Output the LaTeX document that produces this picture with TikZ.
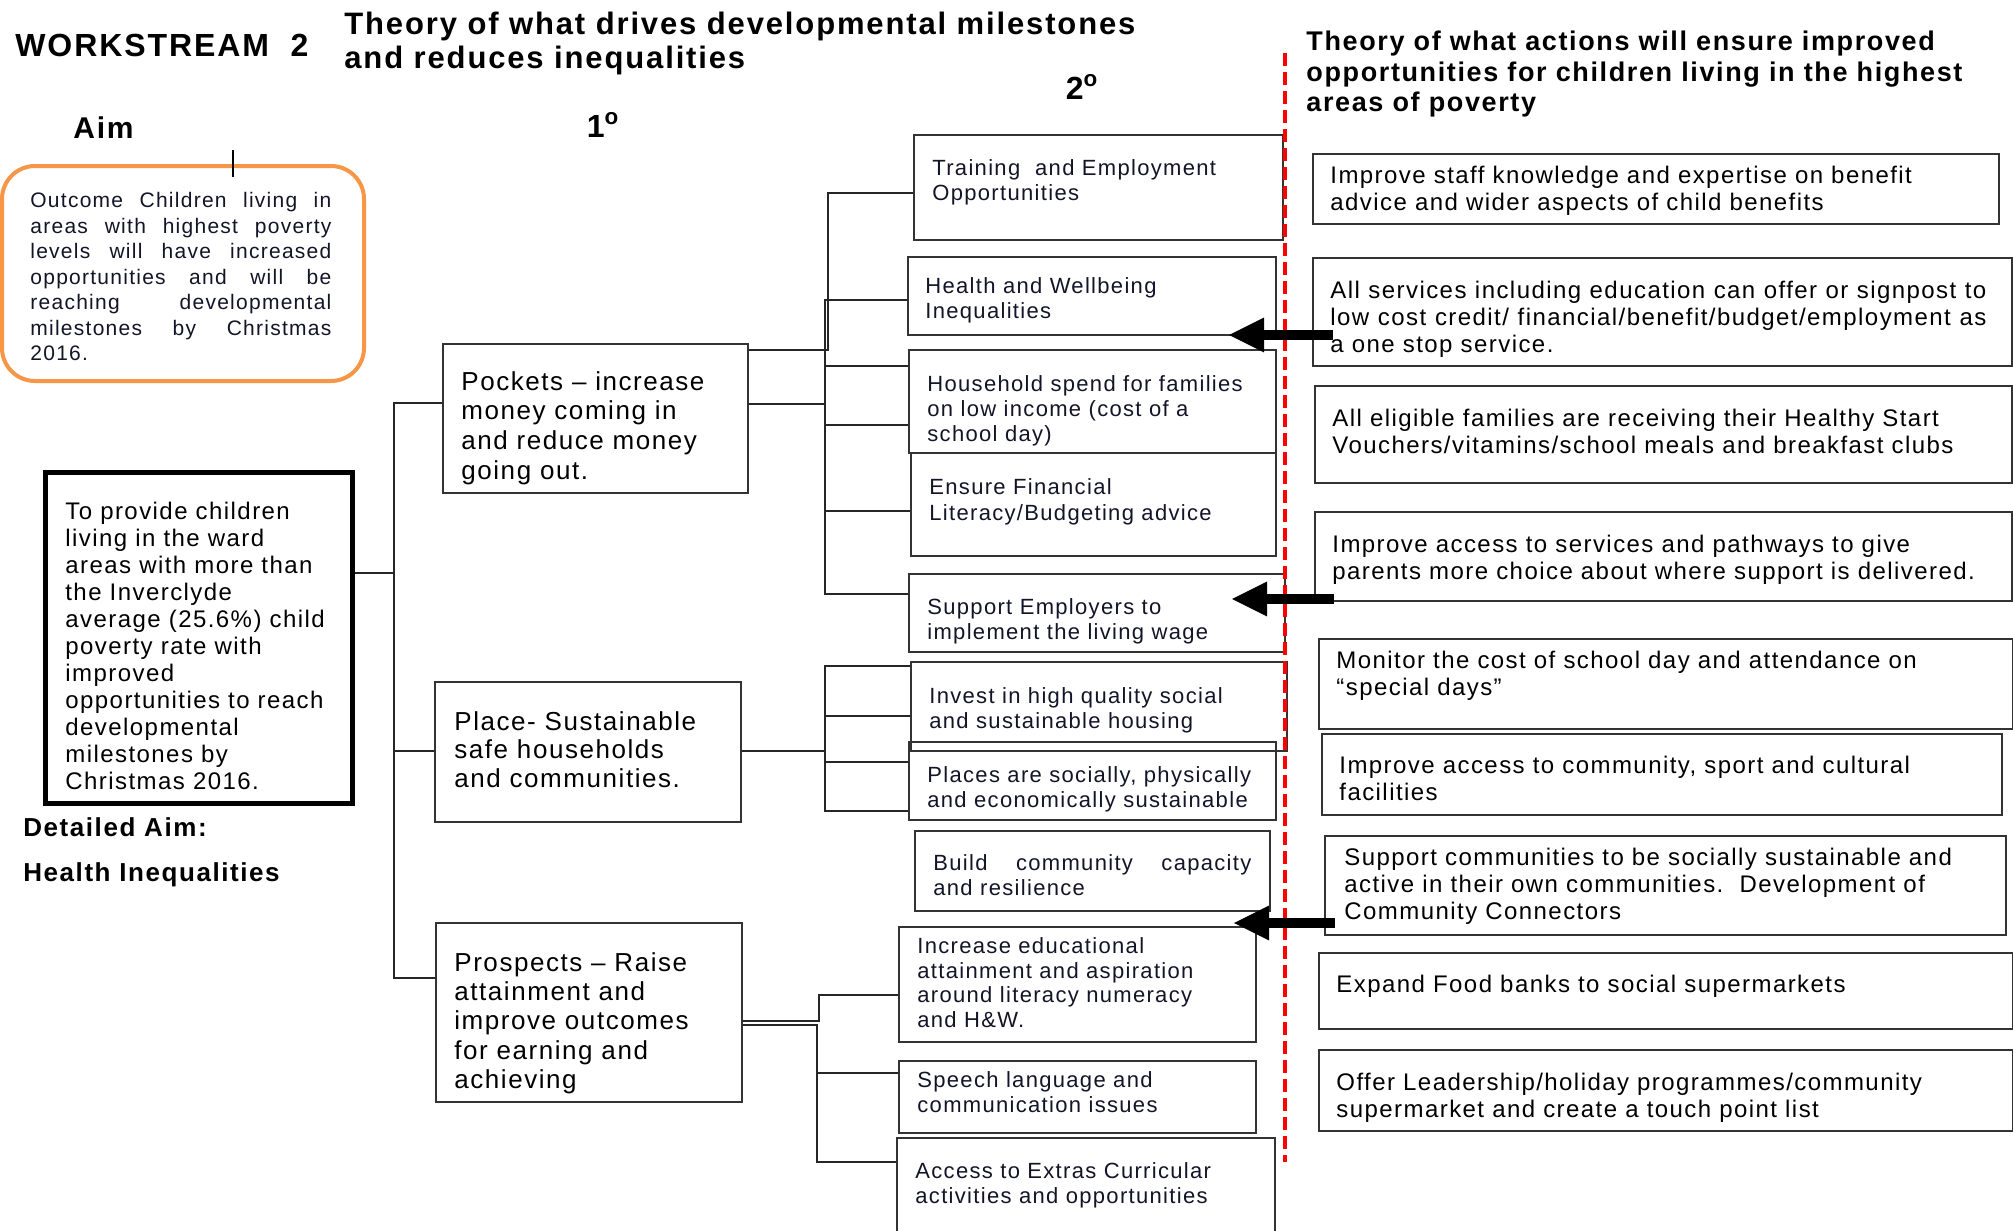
\documentclass[tikz,border=0pt]{standalone}
\usepackage{fontspec}
\setmainfont[LetterSpace=6]{Liberation Sans}
\usetikzlibrary{arrows.meta,fit}
\definecolor{orangeb}{RGB}{247,150,70}
\definecolor{ink}{RGB}{20,20,40}
\newcommand\fs[2]{\fontsize{#1}{#2}\selectfont}
\begin{document}
\begin{tikzpicture}[x=0.5pt,y=-0.5pt,
  bx/.style={draw=black!80, line width=1pt, inner sep=0pt},
  txt/.style={anchor=north west, inner sep=0pt, align=left},
  conn/.style={draw=black!85, line width=0.8pt},
  arr/.style={line width=5pt, -{Triangle[length=18pt,width=16pt]}},
  redline/.style={draw=red, line width=2.4pt, dash pattern=on 6.5pt off 3pt},
  col1/.style={txt, font=\fs{13}{14.8}},
  col2/.style={txt, font=\fs{11}{12.5}, text=ink},
  col3/.style={txt, font=\fs{12}{13.5}}]
\useasboundingbox (0,0) rectangle (2013,1231);
\fill[white] (0,0) rectangle (2013,1231);

% ---------- headings ----------
\node[txt, font=\bfseries\fs{16}{18}] (ws) at (15,34) {WORKSTREAM\ \ 2};
\node[txt, font=\bfseries\fs{15.5}{17}] (title1) at (344,12) {Theory of what drives developmental milestones\\and reduces inequalities};
\node[font=\bfseries\fs{16}{18}] (deg2) at (1082,87) {2\textsuperscript{o}};
\node[txt, font=\bfseries\fs{15}{17}] (aimlbl) at (73,116) {Aim};
\node[font=\bfseries\fs{16}{18}] (deg1) at (603,125) {1\textsuperscript{o}};
\node[txt, font=\bfseries\fs{13.5}{15.25}] (title2) at (1306,31) {Theory of what actions will ensure improved\\opportunities for children living in the highest\\areas of poverty};

% ---------- aim column ----------
\node[draw=orangeb, line width=2pt, rounded corners=16.5pt, inner sep=0pt, fit={(2,166) (364,381)}] (outcome) {};
\node[txt, font=\fs{10.5}{12.75}, text=ink] (outcome-t) at (30,192) {%
\makebox[150.5pt][s]{Outcome Children living in}\\
\makebox[150.5pt][s]{areas with highest poverty}\\
\makebox[150.5pt][s]{levels will have increased}\\
\makebox[150.5pt][s]{opportunities and will be}\\
\makebox[150.5pt][s]{reaching developmental}\\
\makebox[150.5pt][s]{milestones by Christmas}\\
2016.};
\coordinate (tick) at (233,150);
\draw[line width=1.3pt] (tick) -- (tick |- 0,177);

\node[draw=black, line width=2.5pt, inner sep=0pt, fit={(45,472) (352,803)}] (aim) {};
\node[txt, font=\fs{12}{13.5}] (aim-t) at (65,502) {To provide children\\living in the ward\\areas with more than\\the Inverclyde\\average (25.6\%) child\\poverty rate with\\improved\\opportunities to reach\\developmental\\milestones by\\Christmas 2016.};
\node[txt, font=\bfseries\fs{13}{15}] (detail) at (23,817) {Detailed Aim:};
\node[txt, font=\bfseries\fs{13}{15}] (health-ineq) at (23,862) {Health Inequalities};

% ---------- 1st level ----------
\node[bx, fit={(443,344) (748,493)}] (pockets) {};
\node[col1] (pockets-t) at (461,371) {Pockets – increase\\money coming in\\and reduce money\\going out.};
\node[bx, fit={(435,682) (741,822)}] (place) {};
\node[col1, font=\fs{13}{14.25}] (place-t) at (454,711) {Place- Sustainable\\safe households\\and communities.};
\node[bx, fit={(436,923) (742,1102)}] (prospects) {};
\node[col1, font=\fs{13}{14.65}] (prospects-t) at (454,952) {Prospects – Raise\\attainment and\\improve outcomes\\for earning and\\achieving};

% ---------- 2nd level ----------
\node[bx, fit={(914,135) (1283,240)}] (train) {};
\node[col2] (train-t) at (932,159) {Training\ \ and Employment\\Opportunities};
\node[bx, fit={(908,257) (1276,335)}] (health) {};
\node[col2] (health-t) at (925,277) {Health and Wellbeing\\Inequalities};
\node[bx, fit={(909,350) (1276,453)}] (household) {};
\node[col2] (household-t) at (927,375) {Household spend for families\\on low income (cost of a\\school day)};
\node[bx, fit={(911,453) (1276,556)}] (ensure) {};
\node[col2, font=\fs{11}{13}] (ensure-t) at (929,478) {Ensure Financial\\Literacy/Budgeting advice};
\node[bx, fit={(909,574) (1285,652)}] (support) {};
\node[col2] (support-t) at (927,598) {Support Employers to\\implement the living wage};
\node[bx, fit={(911,662) (1287,751)}] (invest) {};
\node[col2] (invest-t) at (929,687) {Invest in high quality social\\and sustainable housing};
\node[bx, fit={(909,742) (1276,820)}] (places) {};
\node[col2] (places-t) at (927,766) {Places are socially, physically\\and economically sustainable};
\node[bx, fit={(915,831) (1270,911)}] (build) {};
\node[col2] (build-t) at (933,854) {\makebox[159pt][s]{Build community capacity}\\and resilience};
\node[bx, fit={(899,927) (1256,1042)}] (increase) {};
\node[col2, font=\fs{11}{12.35}] (increase-t) at (917,937) {Increase educational\\attainment and aspiration\\around literacy numeracy\\and H\&W.};
\node[bx, fit={(899,1061) (1256,1133)}] (speech) {};
\node[col2] (speech-t) at (917,1071) {Speech language and\\communication issues};
\node[bx, fit={(897,1138) (1275,1250)}] (access) {};
\node[col2] (access-t) at (915,1162) {Access to Extras Curricular\\activities and opportunities};

% ---------- actions column ----------
\node[bx, fit={(1313,154) (1999,224)}] (r1) {};
\node[col3] (r1-t) at (1330,166) {Improve staff knowledge and expertise on benefit\\advice and wider aspects of child benefits};
\node[bx, fit={(1313,258) (2012,366)}] (r2) {};
\node[col3] (r2-t) at (1330,281) {\makebox[328pt][s]{All services including education can offer or signpost to}\\\makebox[328pt][s]{low cost credit/ financial/benefit/budget/employment as}\\a one stop service.};
\node[bx, fit={(1315,386) (2012,483)}] (r3) {};
\node[col3] (r3-t) at (1332,409) {All eligible families are receiving their Healthy Start\\Vouchers/vitamins/school meals and breakfast clubs};
\node[bx, fit={(1315,512) (2012,601)}] (r4) {};
\node[col3] (r4-t) at (1332,535) {Improve access to services and pathways to give\\parents more choice about where support is delivered.};
\node[bx, fit={(1319,639) (2013,729)}] (r5) {};
\node[col3] (r5-t) at (1336,651) {Monitor the cost of school day and attendance on\\“special days”};
\node[bx, fit={(1322,734) (2002,815)}] (r6) {};
\node[col3] (r6-t) at (1339,756) {Improve access to community, sport and cultural\\facilities};
\node[bx, fit={(1325,836) (2006,935)}] (r7) {};
\node[col3] (r7-t) at (1344,848) {Support communities to be socially sustainable and\\active in their own communities.\ \ Development of\\Community Connectors};
\node[bx, fit={(1319,953) (2013,1029)}] (r8) {};
\node[col3] (r8-t) at (1336,975) {Expand Food banks to social supermarkets};
\node[bx, fit={(1319,1050) (2013,1131)}] (r9) {};
\node[col3] (r9-t) at (1336,1073) {Offer Leadership/holiday programmes/community\\supermarket and create a touch point list};

% ---------- connectors ----------
\coordinate (t0) at (394,573);
\draw[conn, line width=1.2pt] (aim.east |- t0) -- (t0);
\draw[conn] (pockets.west |- 0,403) -| (t0 |- 0,978) -- (prospects.west |- 0,978);
\draw[conn] (t0 |- 0,751) -- (place.west |- 0,751);

\coordinate (t1) at (825,404);
\draw[conn] (pockets.east |- 0,350) -| (828,193) -- (train.west |- 0,193);
\draw[conn] (pockets.east |- t1) -- (t1);
\draw[conn] (health.west |- 0,300) -| (t1 |- 0,594) -- (support.west |- 0,594);
\draw[conn] (t1 |- 0,366) -- (household.west |- 0,366);
\draw[conn] (t1 |- 0,425) -- (household.west |- 0,425);
\draw[conn] (t1 |- 0,511) -- (ensure.west |- 0,511);

\coordinate (t2) at (825,751);
\draw[conn, line width=1.3pt] (place.east |- t2) -- (t2);
\draw[conn] (invest.west |- 0,666) -| (t2 |- 0,811) -- (places.west |- 0,811);
\draw[conn] (t2 |- 0,716) -- (invest.west |- 0,716);
\draw[conn] (t2 |- 0,762) -- (places.west |- 0,762);

\coordinate (t3) at (817,1073);
\draw[conn] (prospects.east |- 0,1021) -| (819,995) -- (increase.west |- 0,995);
\draw[conn] (prospects.east |- 0,1025) -| (t3 |- 0,1162) -- (access.west |- 0,1162);
\draw[conn] (t3) -- (speech.west |- t3);

% ---------- red divider ----------
\coordinate (redtop) at (1285,53);
\coordinate (redbot) at (1285,1162);
\draw[redline] (redtop) -- (redbot);

% ---------- arrows ----------
\coordinate (a1s) at (1333,335); \coordinate (a1e) at (1228,335);
\coordinate (a2s) at (1334,599); \coordinate (a2e) at (1231,599);
\coordinate (a3s) at (1335,923); \coordinate (a3e) at (1233,923);
\draw[arr] (a1s) -- (a1e);
\draw[arr] (a2s) -- (a2e);
\draw[arr] (a3s) -- (a3e);
\end{tikzpicture}
\end{document}
